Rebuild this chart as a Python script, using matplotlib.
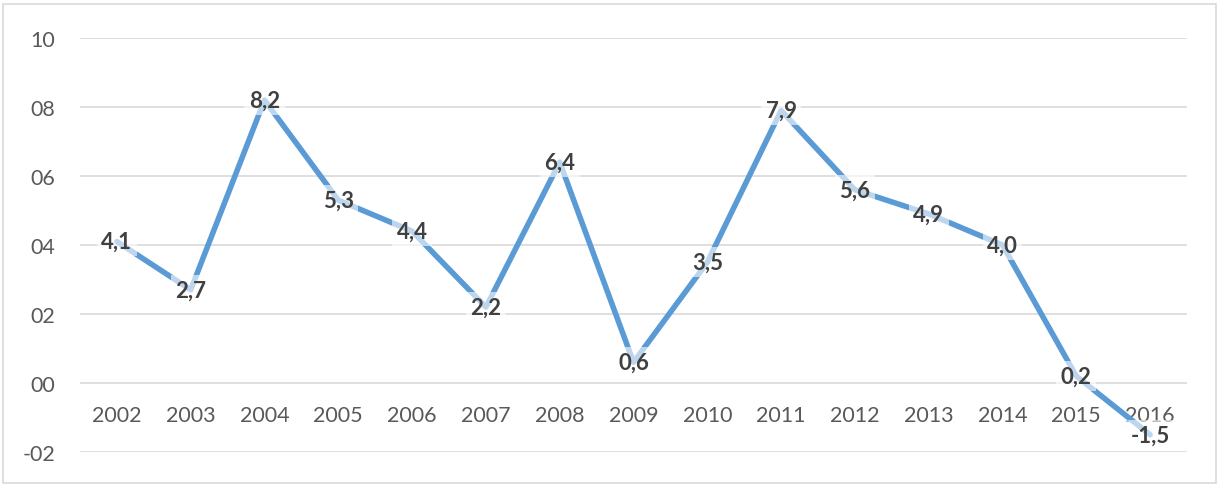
import matplotlib.pyplot as plt
from matplotlib.patches import Rectangle
from matplotlib.ticker import FuncFormatter

years = ['2002', '2003', '2004', '2005', '2006', '2007', '2008', '2009',
         '2010', '2011', '2012', '2013', '2014', '2015', '2016']
values = [4.1, 2.7, 8.2, 5.3, 4.4, 2.2, 6.4, 0.6, 3.5, 7.9, 5.6, 4.9, 4.0, 0.2, -1.5]

plt.rcParams['font.family'] = ['Lato', 'DejaVu Sans']

fig = plt.figure(figsize=(12.22, 4.89), dpi=100)
ax = fig.add_axes([80 / 1222, 1 - 453 / 489, 1107 / 1222, 414 / 489])

# outer chart frame
fig.patches.append(Rectangle((3 / 1222, 1 - 484 / 489), 1213 / 1222, 479 / 489,
                             transform=fig.transFigure, fill=False,
                             edgecolor='#d9d9d9', linewidth=1.2))

x = list(range(len(years)))
ax.plot(x, values, color='#5b9bd5', linewidth=4.0, solid_capstyle='round',
        solid_joinstyle='round', zorder=3)

for xi, v in zip(x, values):
    ax.text(xi, v, f'{v:.1f}'.replace('.', ','), ha='center', va='center',
            fontsize=16, fontweight='bold', color='#404040', zorder=4,
            bbox=dict(boxstyle='square,pad=0.2', facecolor='white',
                      edgecolor='none', alpha=0.6))

ax.set_xlim(-0.5, len(years) - 0.5)
ax.set_ylim(-2, 10)
ax.set_yticks(range(-2, 11, 2))
ax.yaxis.set_major_formatter(FuncFormatter(
    lambda v, p: ('-' if v < 0 else '') + f'{abs(int(v)):02d}'))
ax.set_xticks(x)
ax.set_xticklabels(years)

ax.grid(axis='y', color='#d9d9d9', linewidth=1.2, zorder=0)
for s in ax.spines.values():
    s.set_visible(False)
ax.spines['bottom'].set_position(('data', 0))
ax.tick_params(axis='both', length=0, labelsize=15.5, colors='#595959')
ax.tick_params(axis='y', pad=18)
ax.tick_params(axis='x', pad=16)

fig.savefig('out.png', dpi=100)
